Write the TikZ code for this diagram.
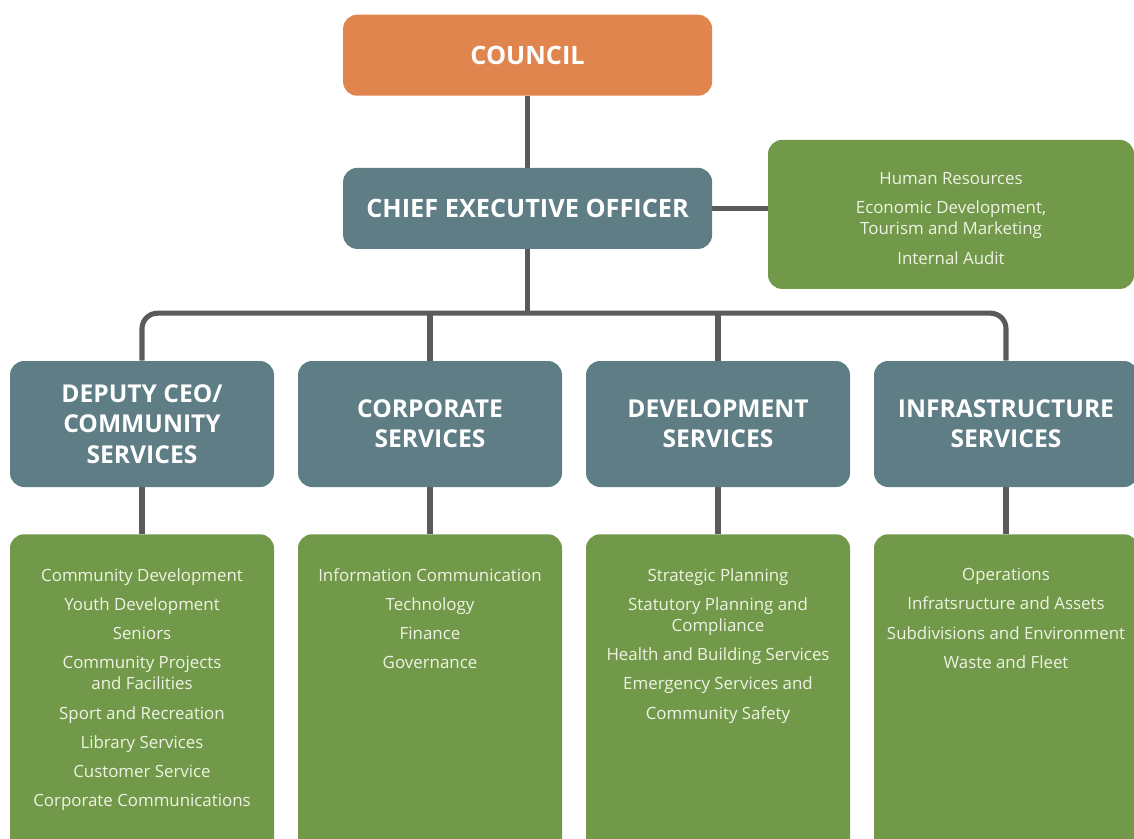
\documentclass[tikz,border=0pt]{standalone}
\usepackage{fontspec}
\setmainfont{Open Sans}
\usetikzlibrary{positioning,calc,backgrounds}
\definecolor{clay}{RGB}{224,133,78}
\definecolor{slate}{RGB}{94,125,133}
\definecolor{moss}{RGB}{114,153,74}
\definecolor{wire}{RGB}{90,90,92}
\definecolor{pale}{RGB}{238,243,228}
\tikzset{
  head/.style={fill=#1,text=white,rounded corners=10pt,minimum width=92.25mm,
    minimum height=20.25mm,align=center,font=\fontsize{18}{22}\selectfont\bfseries},
  head/.default=slate,
  dept/.style={fill=slate,text=white,rounded corners=10pt,minimum width=66mm,
    minimum height=31.5mm,align=center,font=\fontsize{17.5}{21.5}\selectfont\bfseries},
  unit/.style={fill=moss,rounded corners=10pt,minimum width=66mm,minimum height=90mm},
  items/.style={text=pale,align=center,font=\fontsize{12}{15}\selectfont,inner sep=0pt},
  link/.style={draw=wire,line width=3.6pt},
}
\begin{document}
\begin{tikzpicture}
  \clip (0,0) rectangle (28.35,-20.95);
  \node[head=clay] (council) at (13.19,-1.38) {COUNCIL};
  \node[head] (ceo) at (13.19,-5.21) {CHIEF EXECUTIVE OFFICER};
  \node[unit,minimum width=91.5mm,minimum height=37.25mm] (office) at (23.775,-5.36) {};
  \node[items,below=8.1mm of office.north] (officelist) {Human Resources\\[5.9pt]
    Economic Development,\\Tourism and Marketing\\[5.9pt]Internal Audit};
  % departments and their units
  \foreach \i/\x/\t/\l in {
    1/3.55/{DEPUTY CEO/\\COMMUNITY\\SERVICES}/{Community Development\\[5.8pt]Youth Development\\[5.8pt]Seniors\\[5.8pt]Community Projects\\and Facilities\\[5.8pt]Sport and Recreation\\[5.8pt]Library Services\\[5.8pt]Customer Service\\[5.8pt]Corporate Communications},
    2/10.75/{CORPORATE\\SERVICES}/{Information Communication\\[5.8pt]Technology\\[5.8pt]Finance\\[5.8pt]Governance},
    3/17.95/{DEVELOPMENT\\SERVICES}/{Strategic Planning\\[5.8pt]Statutory Planning and\\Compliance\\[5.8pt]Health and Building Services\\[5.8pt]Emergency Services and\\[5.8pt]Community Safety},
    4/25.15/{INFRASTRUCTURE\\SERVICES}/{Operations\\[5.8pt]Infratsructure and Assets\\[5.8pt]Subdivisions and Environment\\[5.8pt]Waste and Fleet}}{
    \node[dept] (dept\i) at (\x,-10.6) {\t};
    \node[unit,anchor=north] (unit\i) at (\x,-13.35) {};
    \node[items,below=8.5mm of unit\i.north] (list\i) {\l};
  }
  \coordinate (bus) at ($(ceo.south)+(0,-1.6)$);
  \begin{scope}[on background layer]
    \draw[link] (council) -- (ceo);
    \draw[link] (ceo.east) -- (ceo.east -| office.west);
    \draw[link] (ceo) -- (bus);
    \draw[link,rounded corners=11pt] (dept1.north) |- (bus) -| (dept4.north);
    \draw[link] (dept2.north) -- (dept2.north |- bus);
    \draw[link] (dept3.north) -- (dept3.north |- bus);
    \foreach \i in {1,...,4} \draw[link] (dept\i) -- (unit\i);
  \end{scope}
\end{tikzpicture}
\end{document}
